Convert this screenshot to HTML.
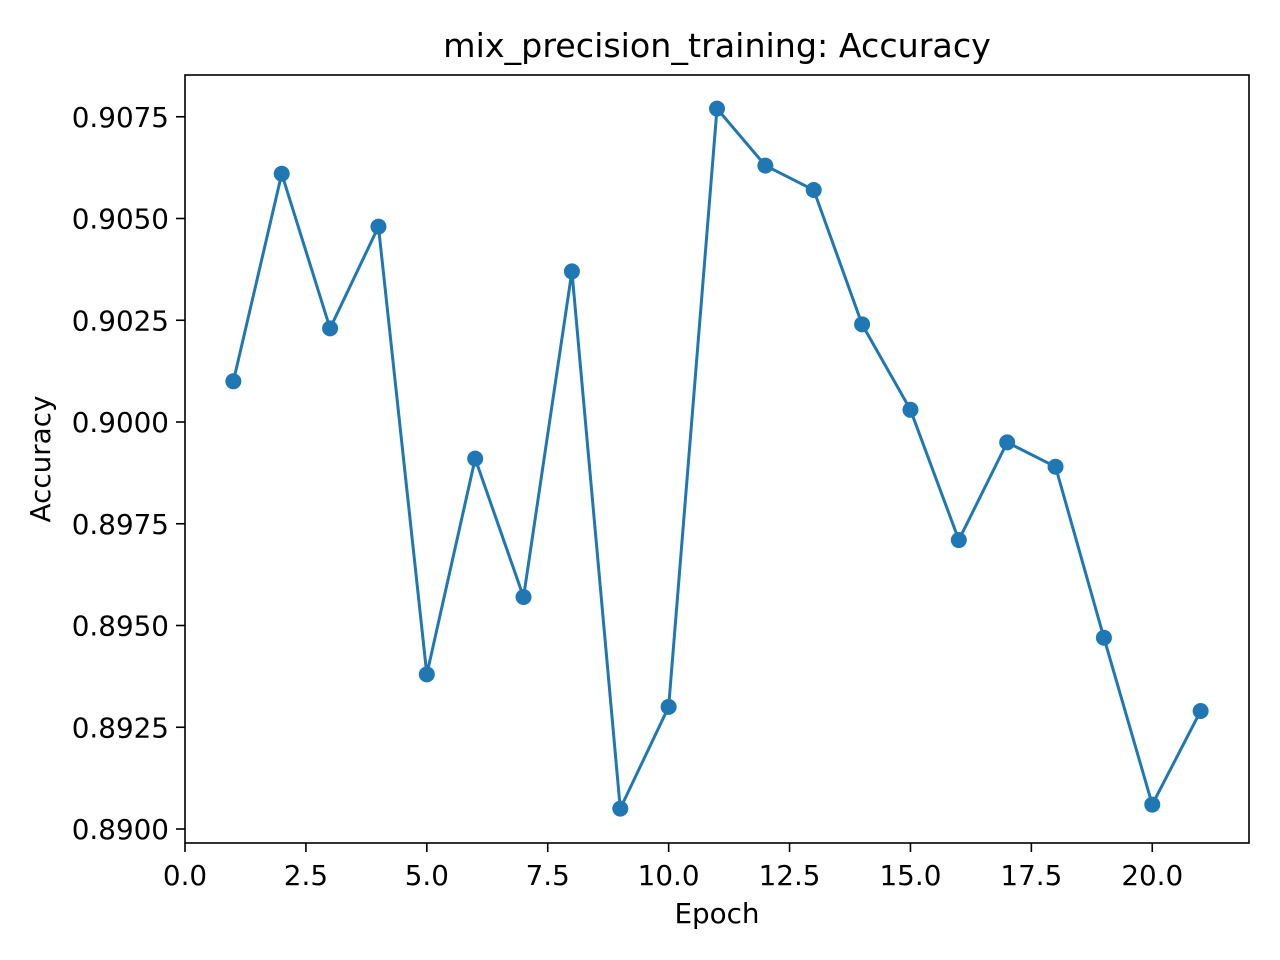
<!DOCTYPE html>
<html><head><meta charset="utf-8"><style>
body{margin:0;background:#fff;}
svg{display:block;font-family:"DejaVu Sans","Liberation Sans",sans-serif;}
</style></head><body>
<svg id="chart" width="1280" height="960" viewBox="0 0 1280 960" xmlns="http://www.w3.org/2000/svg">
<rect width="1280" height="960" fill="#fff"/>
<text x="717" y="57" font-size="33.3" text-anchor="middle" fill="#000">mix_precision_training: Accuracy</text>
<text x="717" y="923" font-size="27.8" text-anchor="middle" fill="#000">Epoch</text>
<text transform="translate(50,459) rotate(-90)" font-size="27.8" text-anchor="middle" fill="#000">Accuracy</text>
<g id="xticks"></g><g id="yticks"></g><g id="series"></g>
<rect x="185" y="75" width="1064" height="768" fill="none" stroke="#000" stroke-width="1.6"/>
</svg>
<script>
const epochs=[1,2,3,4,5,6,7,8,9,10,11,12,13,14,15,16,17,18,19,20,21];
const accuracy=[0.9010,0.9061,0.9023,0.9048,0.8938,0.8991,0.8957,0.9037,0.8905,0.8930,0.9077,0.9063,0.9057,0.9024,0.9003,0.8971,0.8995,0.8989,0.8947,0.8906,0.8929];
const xTicks=[0,2.5,5,7.5,10,12.5,15,17.5,20];
const xTickLabels=["0.0","2.5","5.0","7.5","10.0","12.5","15.0","17.5","20.0"];
const yTicks=[0.89,0.8925,0.895,0.8975,0.9,0.9025,0.905,0.9075];
const yTickLabels=["0.8900","0.8925","0.8950","0.8975","0.9000","0.9025","0.9050","0.9075"];
const X0=185,X1=1249,Y0=843,Y1=75;
const xMin=0,xMax=22,yMin=0.889656,yMax=0.908526;
const sx=v=>X0+(v-xMin)/(xMax-xMin)*(X1-X0);
const sy=v=>Y0-(v-yMin)/(yMax-yMin)*(Y0-Y1);
const NS="http://www.w3.org/2000/svg";
function mk(t,a){const e=document.createElementNS(NS,t);for(const k in a)e.setAttribute(k,a[k]);return e;}
const xg=document.getElementById('xticks');
xTicks.forEach((v,i)=>{
 const l=mk('line',{x1:sx(v),x2:sx(v),y1:Y0,y2:Y0+9,stroke:'#000','stroke-width':1.6});
 
 
 xg.appendChild(l);
 const t=mk('text',{x:sx(v),y:Y0+42,'font-size':27.8,'text-anchor':'middle'});
 
 
 t.textContent=xTickLabels[i];xg.appendChild(t);
});
const yg=document.getElementById('yticks');
yTicks.forEach((v,i)=>{
 const l=mk('line',{x1:X0-9,x2:X0,y1:sy(v),y2:sy(v),stroke:'#000','stroke-width':1.6});
 
 
 yg.appendChild(l);
 const t=mk('text',{x:X0-16,y:sy(v)+10,'font-size':27.8,'text-anchor':'end'});
 
 
 t.textContent=yTickLabels[i];yg.appendChild(t);
});
const sg=document.getElementById('series');
const p=mk('polyline',{points:epochs.map((e,i)=>sx(e)+','+sy(accuracy[i])).join(' '),fill:'none',stroke:'#1f77b4','stroke-width':3});


sg.appendChild(p);
epochs.forEach((e,i)=>{
 const c=mk('circle',{cx:sx(e),cy:sy(accuracy[i]),r:8,fill:'#1f77b4'});
 
 
 sg.appendChild(c);
});
</script>
</body></html>
